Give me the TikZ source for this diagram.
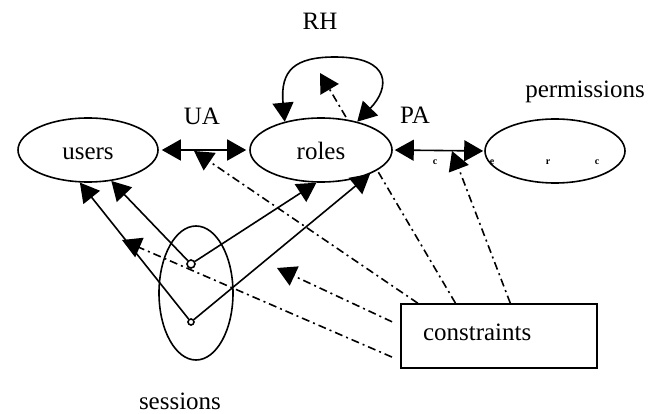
\documentclass[tikz,border=0pt]{standalone}
\usepackage{fontspec}
\setmainfont{Liberation Serif}
\usetikzlibrary{shapes.geometric,arrows.meta,backgrounds}

\begin{document}
\begin{tikzpicture}[x=1pt,y=-1pt,line width=1.6pt,
		font=\fontsize{25pt}{30pt}\selectfont,
		onehead/.style={arrows={-Triangle[length=19pt,width=21pt]}},
		twohead/.style={arrows={Triangle[length=19pt,width=21pt]-Triangle[length=19pt,width=21pt]}},
		entity/.style={ellipse, draw, fill=white, inner sep=0, minimum width=140, minimum height=64, text height=20pt, text depth=0pt},
		port/.style={circle, draw, fill=white, inner sep=0},
		cstr/.style={line width=1.6pt, dash pattern=on 8pt off 4pt on 2pt off 4pt},
		glyph/.style={font=\fontsize{10pt}{10pt}\bfseries\selectfont, inner sep=0}]
	\useasboundingbox (0,0) rectangle (664,414);
	% the three entity sets
	\node[entity] (users) at (88,150) {users};
	\node[entity, minimum width=142] (roles) at (321,150) {roles};
	\node[entity] (perms) at (555,151) {};
	\node[ellipse, draw, inner sep=0, minimum width=74, minimum height=134] (sessions) at (196,293) {};
	\node[port, minimum size=8] (s1) at (191,264) {};
	\node[port, minimum size=6] (s2) at (191,322) {};
	\node[draw, rectangle, minimum height=64, text width=152, inner xsep=22, align=left, text height=17pt, text depth=8pt] (cons) at (499,336) {constraints};
	% labels
	\node (RH) at (320,21) {RH};
	\node (UA) at (202,116) {UA};
	\node (PA) at (415,115) {PA};
	\node (permlbl) at (585,92) {permissions};
	\node (seslbl) at (180,401) {sessions};
	\node[glyph] (g1) at (435,162) {c};
	\node[glyph] (g2) at (492,162) {e};
	\node[glyph] (g3) at (548,162) {r};
	\node[glyph] (g4) at (597,162) {c};
	% free ends of the constraint arrows
	\coordinate (rhend) at (320,73);
	\coordinate (uaend) at (194,151);
	\coordinate (paend) at (452,151);
	\coordinate (srend) at (277,268);
	\coordinate (usend) at (122,240);
	% assignments
	\draw[twohead, shorten <=3pt, shorten >=3pt] (users.east) -- (roles.west);
	\draw[twohead, shorten <=2pt, shorten >=1pt] (roles.east) -- (perms.west);
	\draw[twohead] (roles.142) .. controls (280,70) and (295,57) .. (335,57) .. controls (392,57) and (390,88) .. (roles.38);
	\draw[onehead] (s1) -- (users.307);
	\draw[onehead] (s1) -- (roles.262);
	\draw[onehead] (s2) -- (users.256);
	\draw[onehead] (s2) -- (roles.-26);
	% constraints
	\begin{scope}[on background layer]
		\draw[cstr, onehead] (cons.143) -- (rhend);
	\end{scope}
	\draw[cstr, onehead] (cons.158) -- (uaend);
	\draw[cstr, onehead] (cons.71) -- (paend);
	\draw[cstr, onehead, shorten <=9pt] (cons.174) -- (srend);
	\draw[cstr, onehead, shorten <=9pt] (cons.194) -- (usend);
\end{tikzpicture}
\end{document}
